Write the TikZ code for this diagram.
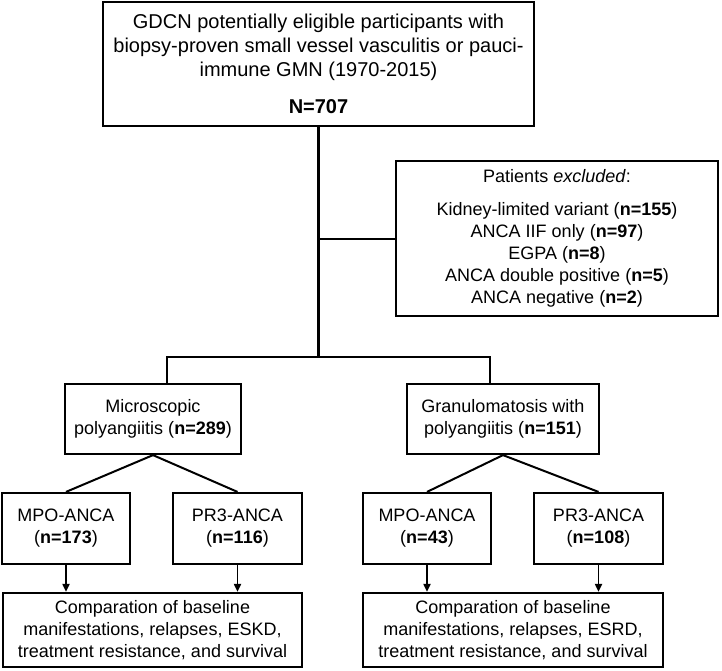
\documentclass[tikz,border=0pt]{standalone}
\usepackage{fontspec}
\setmainfont{Liberation Sans}
\usetikzlibrary{arrows.meta,calc}
\begin{document}
\begin{tikzpicture}[x=1pt,y=-1pt,
  box/.style={draw,line width=2.2pt,rectangle,align=center,inner sep=0pt,font=\fontsize{18}{22}\selectfont},
  conn/.style={line width=2pt},
  trunk/.style={line width=2.8pt},
  arr/.style={line width=1.8pt,-{Triangle[length=8pt,width=7pt]}}]
\useasboundingbox (0,0) rectangle (722,670);

\node[box,minimum width=431pt,minimum height=124pt,font=\fontsize{20}{24}\selectfont] (top) at (318.5,64)
  {GDCN potentially eligible participants with\\biopsy-proven small vessel vasculitis or pauci-\\immune GMN (1970-2015)\\[13pt]\textbf{N=707}};

\node[box,minimum width=322pt,minimum height=155pt] (excl) at (557,238.5)
  {Patients \textit{excluded}:\\[11pt]Kidney-limited variant (\textbf{n=155})\\ANCA IIF only (\textbf{n=97})\\EGPA (\textbf{n=8})\\ANCA double positive (\textbf{n=5})\\ANCA negative (\textbf{n=2})};

\node[box,minimum width=176pt,minimum height=70pt] (mpa) at (153,419)
  {Microscopic\\polyangiitis (\textbf{n=289})};
\node[box,minimum width=192pt,minimum height=70pt] (gpa) at (503,419)
  {Granulomatosis with\\polyangiitis (\textbf{n=151})};

\node[box,minimum width=128pt,minimum height=71pt] (mpo1) at (66,528.5) {MPO-ANCA\\(\textbf{n=173})};
\node[box,minimum width=129pt,minimum height=71pt] (pr31) at (237.5,528.5) {PR3-ANCA\\(\textbf{n=116})};
\node[box,minimum width=128pt,minimum height=71pt] (mpo2) at (427,528.5) {MPO-ANCA\\(\textbf{n=43})};
\node[box,minimum width=129pt,minimum height=71pt] (pr32) at (598.5,528.5) {PR3-ANCA\\(\textbf{n=108})};

\node[box,minimum width=299pt,minimum height=74pt] (bot1) at (152.5,630)
  {Comparation of baseline\\manifestations, relapses, ESKD,\\treatment resistance, and survival};
\node[box,minimum width=300pt,minimum height=74pt] (bot2) at (513,630)
  {Comparation of baseline\\manifestations, relapses, ESRD,\\treatment resistance, and survival};

\coordinate (barL) at (167,357);
\coordinate (barR) at (490,357);
\coordinate (jb) at (top.south |- barL);
\coordinate (je) at (top.south |- excl.west);

\draw[trunk] (top.south) -- (jb);
\draw[conn] (je) -- (excl.west);
\draw[conn] (barL |- mpa.north) -- (barL) -- (barR) -- (barR |- gpa.north);

\draw[conn] (mpa.south) -- (mpo1.north);
\draw[conn] (mpa.south) -- (pr31.north);
\draw[conn] (gpa.south) -- (mpo2.north);
\draw[conn] (gpa.south) -- (pr32.north);

\draw[arr] (mpo1.south) -- (mpo1.south |- bot1.north);
\draw[arr] (pr31.south) -- (pr31.south |- bot1.north);
\draw[arr] (mpo2.south) -- (mpo2.south |- bot2.north);
\draw[arr] (pr32.south) -- (pr32.south |- bot2.north);
\end{tikzpicture}
\end{document}
